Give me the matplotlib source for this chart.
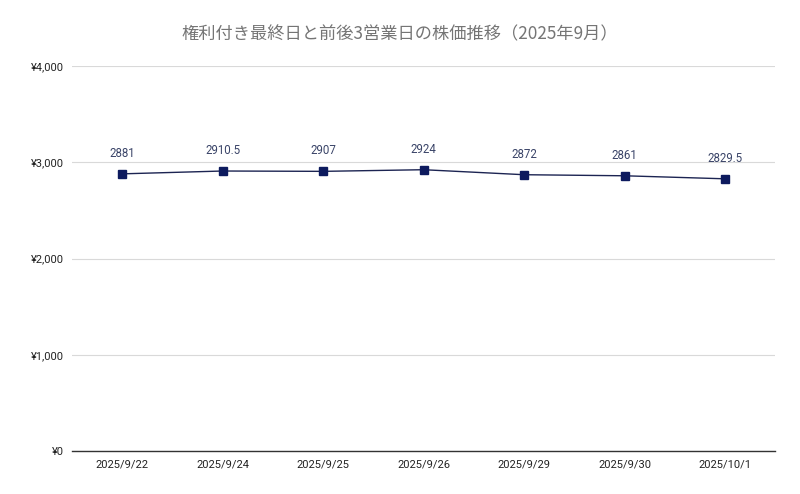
import matplotlib.pyplot as plt
from matplotlib.ticker import FuncFormatter

dates = ["2025/9/22", "2025/9/24", "2025/9/25", "2025/9/26", "2025/9/29", "2025/9/30", "2025/10/1"]
prices = [2881, 2910.5, 2907, 2924, 2872, 2861, 2829.5]
labels = ["2881", "2910.5", "2907", "2924", "2872", "2861", "2829.5"]

plt.rcParams['font.family'] = ['Roboto', 'Noto Sans CJK JP', 'DejaVu Sans']

fig = plt.figure(figsize=(8, 4.94), dpi=100)
ax = fig.add_axes([0.09, 0.087, 0.879, 0.779])

x = list(range(len(dates)))
ax.plot(x, prices, color="#1c2452", lw=1, marker="s", ms=6,
        markerfacecolor="#0d1a5e", markeredgecolor="#0d1a5e", zorder=3)
for xi, yi, lab in zip(x, prices, labels):
    ax.annotate(lab, (xi, yi), xytext=(0, 10), textcoords="offset points",
                ha="center", va="bottom", fontsize=8.3, color="#3a4468")

ax.set_xlim(-0.5, len(dates) - 0.5)
ax.set_ylim(0, 4000)
ax.set_yticks([0, 1000, 2000, 3000, 4000])
ax.yaxis.set_major_formatter(FuncFormatter(lambda v, p: "¥{:,.0f}".format(v)))
ax.set_xticks(x)
ax.set_xticklabels(dates)
ax.tick_params(axis="both", length=0, labelsize=8, colors="#222222")
ax.tick_params(axis="x", pad=6)
ax.tick_params(axis="y", pad=6)
ax.grid(axis="y", color="#d9d9d9", lw=0.8)
ax.set_axisbelow(True)
for s in ["top", "right", "left"]:
    ax.spines[s].set_visible(False)
ax.spines["bottom"].set_color("#333333")
ax.spines["bottom"].set_linewidth(1)

fig.text(0.5, 0.93, "権利付き最終日と前後3営業日の株価推移（2025年9月）",
         ha="center", va="center", fontsize=12.4, color="#757575",
         family=['Noto Sans CJK JP', 'DejaVu Sans'])

fig.savefig("out.png", dpi=100)
